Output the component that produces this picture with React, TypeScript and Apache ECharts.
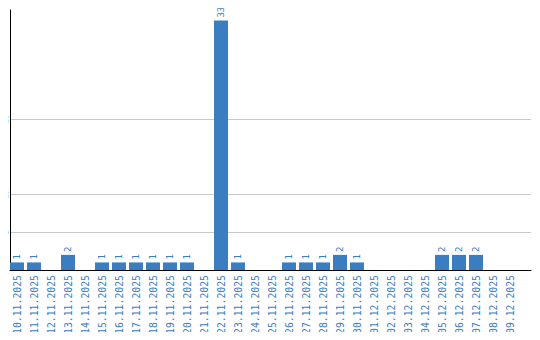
import React, { useEffect, useRef } from "react";
import * as echarts from "echarts";

const categories = [
  "10.11.2025", "11.11.2025", "12.11.2025", "13.11.2025", "14.11.2025",
  "15.11.2025", "16.11.2025", "17.11.2025", "18.11.2025", "19.11.2025",
  "20.11.2025", "21.11.2025", "22.11.2025", "23.11.2025", "24.11.2025",
  "25.11.2025", "26.11.2025", "27.11.2025", "28.11.2025", "29.11.2025",
  "30.11.2025", "01.12.2025", "02.12.2025", "03.12.2025", "04.12.2025",
  "05.12.2025", "06.12.2025", "07.12.2025", "08.12.2025", "09.12.2025",
];
const values = [1, 1, 0, 2, 0, 1, 1, 1, 1, 1, 1, 0, 33, 1, 0, 0, 1, 1, 1, 2, 1, 0, 0, 0, 0, 2, 2, 2, 0, 0];
const yTickLabels = [5, 10, 20];
const yMax = 34.4;

const BLUE = "#3b7dc1";
const MONO = "DejaVu Sans Mono";

export default function App() {
  const ref = useRef<HTMLDivElement>(null);
  useEffect(() => {
    if (!ref.current) return;
    const chart = echarts.init(ref.current, undefined, { renderer: "svg" });
    const gridColors = [0, 5, 10, 15, 20, 25, 30, yMax].map((v) =>
      yTickLabels.includes(v) ? "#c8c8c8" : "rgba(0,0,0,0)"
    );
    chart.setOption({
      animation: false,
      grid: [
        { left: 8.5, right: 21.5, top: 10, bottom: 70 },
        { left: 10, right: 9, top: 10, bottom: 70 },
      ],
      xAxis: [
        {
          type: "category",
          gridIndex: 0,
          data: categories,
          axisLine: { show: false },
          axisTick: { show: false },
          axisLabel: {
            interval: 0,
            rotate: 90,
            margin: 5,
            color: BLUE,
            fontFamily: MONO,
            fontSize: 9.8,
            lineHeight: 10,
          },
        },
        {
          type: "value",
          gridIndex: 1,
          min: 0,
          max: 1,
          axisLine: { show: true, lineStyle: { color: "#000", width: 1 } },
          axisTick: { show: false },
          axisLabel: { show: false },
          splitLine: { show: false },
        },
      ],
      yAxis: [
        {
          type: "value",
          gridIndex: 0,
          min: 0,
          max: yMax,
          show: false,
          splitLine: { show: false },
        },
        {
          type: "value",
          gridIndex: 1,
          min: 0,
          max: yMax,
          interval: 5,
          axisLine: { show: true, lineStyle: { color: "#000", width: 1 } },
          axisTick: { show: false },
          axisLabel: {
            rotate: 90,
            margin: 0,
            fontSize: 7,
            lineHeight: 8,
            fontFamily: MONO,
            color: "#000",
            showMaxLabel: false,
            formatter: (v: number) => (yTickLabels.includes(v) ? String(v) : ""),
          },
          splitLine: { show: true, lineStyle: { color: gridColors, width: 1 } },
        },
      ],
      series: [
        {
          type: "bar",
          xAxisIndex: 0,
          yAxisIndex: 0,
          data: values,
          barWidth: 14,
          itemStyle: { color: BLUE },
          label: {
            show: true,
            position: "top",
            rotate: 90,
            align: "left",
            verticalAlign: "middle",
            distance: 3,
            color: BLUE,
            fontFamily: MONO,
            fontSize: 9,
            formatter: (p: any) => (p.value ? String(p.value) : ""),
          },
        },
      ],
    });
    return () => chart.dispose();
  }, []);
  return <div ref={ref} style={{ width: 540, height: 340, margin: -8 }} />;
}
